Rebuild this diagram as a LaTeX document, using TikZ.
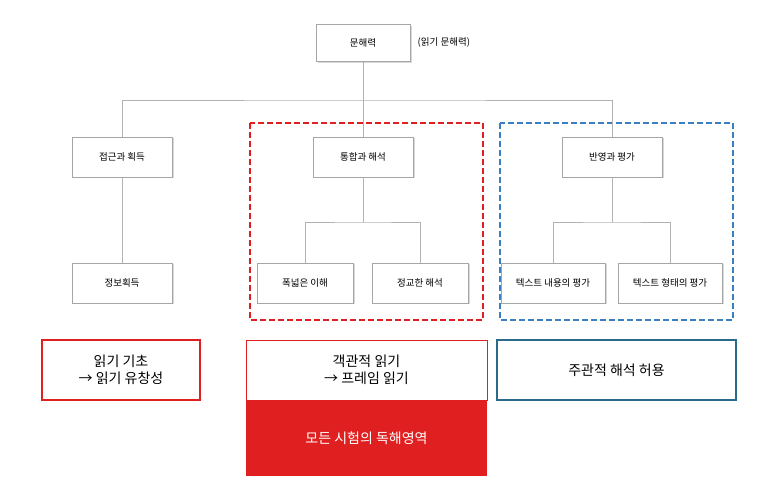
\documentclass[tikz,border=0pt]{standalone}
\usepackage{fontspec}
\setmainfont{Noto Sans CJK KR}
\usetikzlibrary{positioning,shadows}
\definecolor{redline}{HTML}{E02020}
\definecolor{blueline}{HTML}{3A7FC0}
\definecolor{tealline}{HTML}{2A6A8A}
\tikzset{
  box/.style={draw=gray!70, fill=white, drop shadow={shadow xshift=1.5pt, shadow yshift=-1.5pt, fill=gray!60},
    minimum width=100pt, minimum height=40pt, font=\fontsize{9.5}{10}\selectfont},
  smallbox/.style={box, minimum width=96pt},
  bigbox/.style={draw, line width=1.2pt, align=center, font=\fontsize{14}{17}\selectfont},
  link/.style={draw=gray!60, line width=0.8pt},
  frame/.style={line width=1.6pt, dash pattern=on 6pt off 3pt}
}
\begin{document}
\begin{tikzpicture}[x=1pt,y=-1pt]
\useasboundingbox (0,0) rectangle (773,502);
% frames
\draw[frame, redline] (250,123) rectangle (483,320);
\draw[frame, blueline] (500,123) rectangle (733,320);
% nodes
\node[box, minimum width=94pt, minimum height=37pt] (top) at (363,43) {문해력};
\node[font=\fontsize{9.5}{10}\selectfont, right=4pt of top] (topnote) {(읽기 문해력)};
\node[box] (access) at (122,157) {접근과 획득};
\node[box] (integ) at (363,157) {통합과 해석};
\node[box] (reflect) at (612,157) {반영과 평가};
\node[box] (info) at (122,283) {정보획득};
\node[smallbox] (broad) at (305,283) {폭넓은 이해};
\node[smallbox] (fine) at (420,283) {정교한 해석};
\node[box, minimum width=104pt] (content) at (553,283) {텍스트 내용의 평가};
\node[box, minimum width=104pt] (form) at (670,283) {텍스트 형태의 평가};
% connectors
\coordinate (hub) at (363,100);
\draw[link] (top) -- (hub);
\draw[link] (access.north) |- (hub) -| (reflect.north);
\draw[link] (hub) -- (integ.north);
\draw[link] (access) -- (info);
\coordinate (ihub) at (363,222);
\coordinate (rhub) at (612,222);
\draw[link] (integ) -- (ihub);
\draw[link] (broad.north) |- (ihub) -| (fine.north);
\draw[link] (reflect) -- (rhub);
\draw[link] (content.north) |- (rhub) -| (form.north);
% bottom
\node[bigbox, draw=redline, minimum width=158pt, minimum height=60pt] (basic) at (121,370) {읽기 기초\\→ 읽기 유창성};
\node[bigbox, draw=redline, line width=0.6pt, minimum width=241pt, minimum height=60pt] (objective) at (366.5,370) {객관적 읽기\\→ 프레임 읽기};
\node[fill=redline, text=white, font=\fontsize{14}{17}\selectfont, minimum width=241pt, minimum height=75pt, below=0pt of objective] (exam) {모든 시험의 독해영역};
\node[bigbox, draw=tealline, minimum width=239pt, minimum height=60pt] (subj) at (616.5,370) {주관적 해석 허용};
\end{tikzpicture}
\end{document}
